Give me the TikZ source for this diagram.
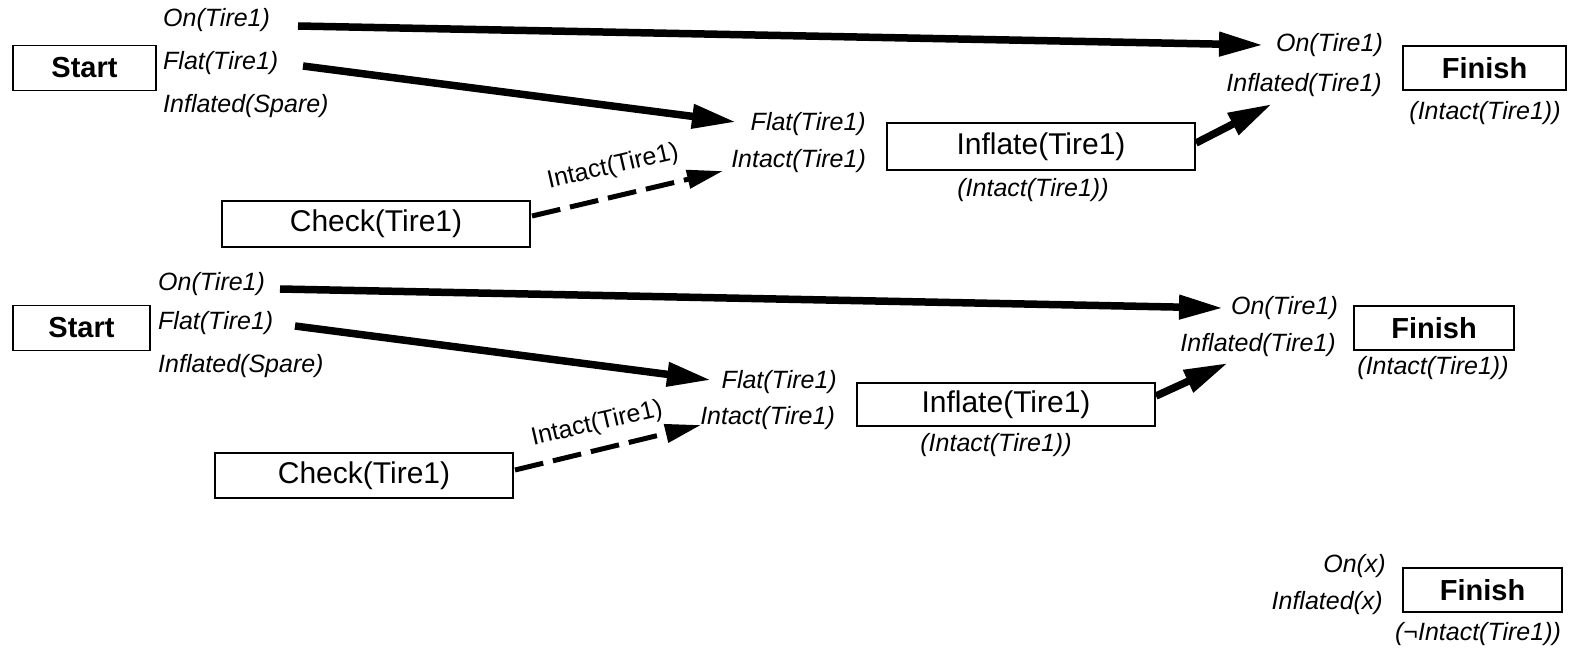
\documentclass[tikz,border=0pt]{standalone}
\usepackage{fontspec}
\setmainfont{Liberation Sans}
\usetikzlibrary{arrows.meta}
\begin{document}
\begin{tikzpicture}[x=1pt,y=-1pt,
  box/.style={draw,line width=1.8pt,inner sep=0pt,minimum height=45pt},
  bigbox/.style={box,font=\fontsize{29}{32}\selectfont\bfseries},
  actbox/.style={box,font=\fontsize{30}{34}\selectfont},
  lab/.style={inner sep=0pt,font=\fontsize{25}{28}\selectfont\itshape},
  lw/.style={lab,anchor=west},
  le/.style={lab,anchor=east},
  link/.style={line width=7.5pt,-{Triangle[length=44pt,width=23pt]}},
  dlink/.style={line width=5pt,dash pattern=on 29pt off 10pt,-{Triangle[length=36pt,width=18pt]}},
  rot/.style={inner sep=0pt,font=\fontsize{25}{28}\selectfont,rotate=13}]
\useasboundingbox (0,0) rectangle (1571,650);

% ---------- top ----------
\node[bigbox,minimum width=143pt] (s1) at (84.5,68) {Start};
\node[lw] (s1on) at (163,20) {On(Tire1)};
\node[lw] (s1flat) at (163,63) {Flat(Tire1)};
\node[lw] (s1inf) at (163,106) {Inflated(Spare)};
\node[actbox,minimum width=308pt,minimum height=47pt] (i1) at (1041,146.5) {Inflate(Tire1)};
\node[le] (i1flat) at (866,124) {Flat(Tire1)};
\node[le] (i1int) at (866,161) {Intact(Tire1)};
\node[lab] (i1c) at (1033,190) {(Intact(Tire1))};
\node[actbox,minimum width=308pt,minimum height=46pt] (c1) at (376,224) {Check(Tire1)};
\node[le] (f1on) at (1383,45) {On(Tire1)};
\node[le] (f1inf) at (1382,85) {Inflated(Tire1)};
\node[bigbox,minimum width=163pt,minimum height=44pt] (f1) at (1484.5,68) {Finish};
\node[lab] (f1c) at (1485,113) {(Intact(Tire1))};

\coordinate (a1s) at (298,26);  \coordinate (a1e) at (1263,45);
\coordinate (a2s) at (303,66);  \coordinate (a2e) at (736,122);
\coordinate (a3s) at (532,216); \coordinate (a3e) at (723,171);
\coordinate (a4s) at (1196,143); \coordinate (a4e) at (1272,104);
\draw[link] (a1s) -- (a1e);
\draw[link] (a2s) -- (a2e);
\draw[dlink] (a3s) -- (a3e);
\draw[link] (a4s) -- (a4e);
\node[rot] (l1) at (613,167) {Intact(Tire1)};

% ---------- middle ----------
\node[bigbox,minimum width=137pt] (s2) at (81.5,328) {Start};
\node[lw] (s2on) at (158,284) {On(Tire1)};
\node[lw] (s2flat) at (158,323) {Flat(Tire1)};
\node[lw] (s2inf) at (158,366) {Inflated(Spare)};
\node[actbox,minimum width=298pt,minimum height=43pt] (i2) at (1006,404.5) {Inflate(Tire1)};
\node[le] (i2flat) at (837,382) {Flat(Tire1)};
\node[le] (i2int) at (835,418) {Intact(Tire1)};
\node[lab] (i2c) at (996,445) {(Intact(Tire1))};
\node[actbox,minimum width=298pt,minimum height=45pt] (c2) at (364,475.5) {Check(Tire1)};
\node[le] (f2on) at (1338,308) {On(Tire1)};
\node[le] (f2inf) at (1336,345) {Inflated(Tire1)};
\node[bigbox,minimum width=160pt,minimum height=44pt] (f2) at (1434,328) {Finish};
\node[lab] (f2c) at (1433,368) {(Intact(Tire1))};

\coordinate (b1s) at (280,289);  \coordinate (b1e) at (1223,308);
\coordinate (b2s) at (295,326);  \coordinate (b2e) at (711,380);
\coordinate (b3s) at (515,470);  \coordinate (b3e) at (701,425);
\coordinate (b4s) at (1156,396); \coordinate (b4e) at (1228,363);
\draw[link] (b1s) -- (b1e);
\draw[link] (b2s) -- (b2e);
\draw[dlink] (b3s) -- (b3e);
\draw[link] (b4s) -- (b4e);
\node[rot] (l2) at (597,424) {Intact(Tire1)};

% ---------- bottom ----------
\node[le] (f3on) at (1386,566) {On(x)};
\node[le] (f3inf) at (1383,603) {Inflated(x)};
\node[bigbox,minimum width=159pt,minimum height=44pt] (f3) at (1482.5,590) {Finish};
\node[lab] (f3c) at (1478,634) {(¬Intact(Tire1))};
\end{tikzpicture}
\end{document}
